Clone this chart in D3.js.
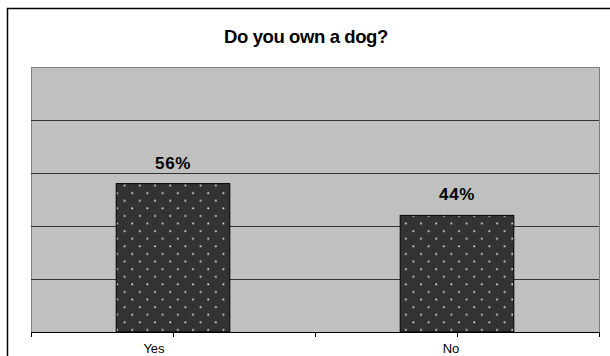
<!DOCTYPE html>
<html>
<head>
<meta charset="utf-8">
<script src="https://cdn.jsdelivr.net/npm/d3@7"></script>
<style>
  body { margin: 0; background: #fff; }
  svg { display: block; font-family: "Liberation Sans", Arial, sans-serif; }
</style>
</head>
<body>
<svg id="chart" width="610" height="356"></svg>
<script>
const categories = ['Yes', 'No']
const values = [0.56, 0.44]
const gridValues = [0.2, 0.4, 0.6, 0.8, 1.0]
const title = 'Do you own a dog?'

const width = 610
const height = 356
const plot = { left: 31, top: 67, right: 599, bottom: 332 }

const svg = d3.select('#chart')

// dotted fill used by the bars
const defs = svg.append('defs')
const pat = defs.append('pattern')
    .attr('id', 'dots')
    .attr('patternUnits', 'userSpaceOnUse')
    .attr('x', 0).attr('y', 0)
    .attr('width', 15.2).attr('height', 15.2)
pat.append('rect').attr('width', 15.2).attr('height', 15.2).attr('fill', '#333333')
pat.append('rect').attr('x', 2.2).attr('y', 2.3).attr('width', 1.7).attr('height', 1.7).attr('fill', '#e6e6e6')
pat.append('rect').attr('x', 9.8).attr('y', 9.9).attr('width', 1.7).attr('height', 1.7).attr('fill', '#e6e6e6')

// outer chart frame (runs off the right and bottom edges)
svg.append('rect')
    .attr('x', 7.5).attr('y', 8.5)
    .attr('width', width + 20).attr('height', height + 20)
    .attr('fill', '#fff')
    .attr('stroke', '#000')
    .attr('stroke-width', 1.5)

svg.append('text')
    .attr('x', 306)
    .attr('y', 42.5)
    .attr('text-anchor', 'middle')
    .attr('font-size', 18.5)
    .attr('font-weight', 'bold')
    .attr('letter-spacing', -0.4)
    .attr('fill', '#000')
    .text(title)

const x = d3.scaleBand()
    .domain(categories)
    .range([plot.left, plot.right])
    .padding(0)

const y = d3.scaleLinear()
    .domain([0, 1])
    .range([plot.bottom, plot.top])

// plot area
svg.append('rect')
    .attr('x', plot.left + 0.5).attr('y', plot.top + 0.5)
    .attr('width', plot.right - plot.left).attr('height', plot.bottom - plot.top)
    .attr('fill', '#c0c0c0')
    .attr('stroke', '#808080')
    .attr('stroke-width', 1)

svg.append('g').attr('class', 'grid')
    .selectAll('line')
    .data(gridValues.filter(d => d < 1))
    .join('line')
    .attr('x1', plot.left).attr('x2', plot.right)
    .attr('y1', d => Math.round(y(d)) + 0.5)
    .attr('y2', d => Math.round(y(d)) + 0.5)
    .attr('stroke', '#333333')
    .attr('stroke-width', 1)

const barW = x.bandwidth() * 0.4
svg.append('g').attr('class', 'bars')
    .selectAll('rect')
    .data(categories)
    .join('rect')
    .attr('x', (d) => x(d) + (x.bandwidth() - barW) / 2)
    .attr('y', (d, i) => y(values[i]))
    .attr('width', barW)
    .attr('height', (d, i) => plot.bottom - y(values[i]))
    .attr('fill', 'url(#dots)')
    .attr('stroke', '#000')
    .attr('stroke-width', 1)

// value labels with plot coloured backing
const labels = svg.append('g').attr('class', 'labels')
    .selectAll('g')
    .data(categories)
    .join('g')
    .attr('transform', (d, i) => `translate(${x(d) + x.bandwidth() / 2},${y(values[i]) - 15})`)
labels.append('rect')
    .attr('x', -23).attr('y', -14)
    .attr('width', 46).attr('height', 17)
    .attr('fill', '#c0c0c0')
labels.append('text')
    .attr('text-anchor', 'middle')
    .attr('font-size', 17)
    .attr('font-weight', 'bold')
    .attr('letter-spacing', 0.6)
    .attr('fill', '#000')
    .text((d, i) => Math.round(values[i] * 100) + '%')

// category axis
const axis = svg.append('g').attr('class', 'x-axis')
axis.append('line')
    .attr('x1', plot.left).attr('x2', plot.right + 1)
    .attr('y1', plot.bottom + 0.5).attr('y2', plot.bottom + 0.5)
    .attr('stroke', '#000')
const tickPos = []
categories.forEach(c => {
    tickPos.push(x(c))
    tickPos.push(x(c) + x.bandwidth() / 2)
})
tickPos.push(plot.right)
axis.selectAll('line.tick')
    .data(tickPos)
    .join('line')
    .attr('class', 'tick')
    .attr('x1', d => Math.round(d) + 0.5).attr('x2', d => Math.round(d) + 0.5)
    .attr('y1', plot.bottom).attr('y2', plot.bottom + 5)
    .attr('stroke', '#000')

const labelShift = [-19, -6]
axis.selectAll('text')
    .data(categories)
    .join('text')
    .attr('x', (d, i) => x(d) + x.bandwidth() / 2 + labelShift[i])
    .attr('y', 353)
    .attr('text-anchor', 'middle')
    .attr('font-size', 13)
    .attr('fill', '#000')
    .text(d => d)
</script>
</body>
</html>
